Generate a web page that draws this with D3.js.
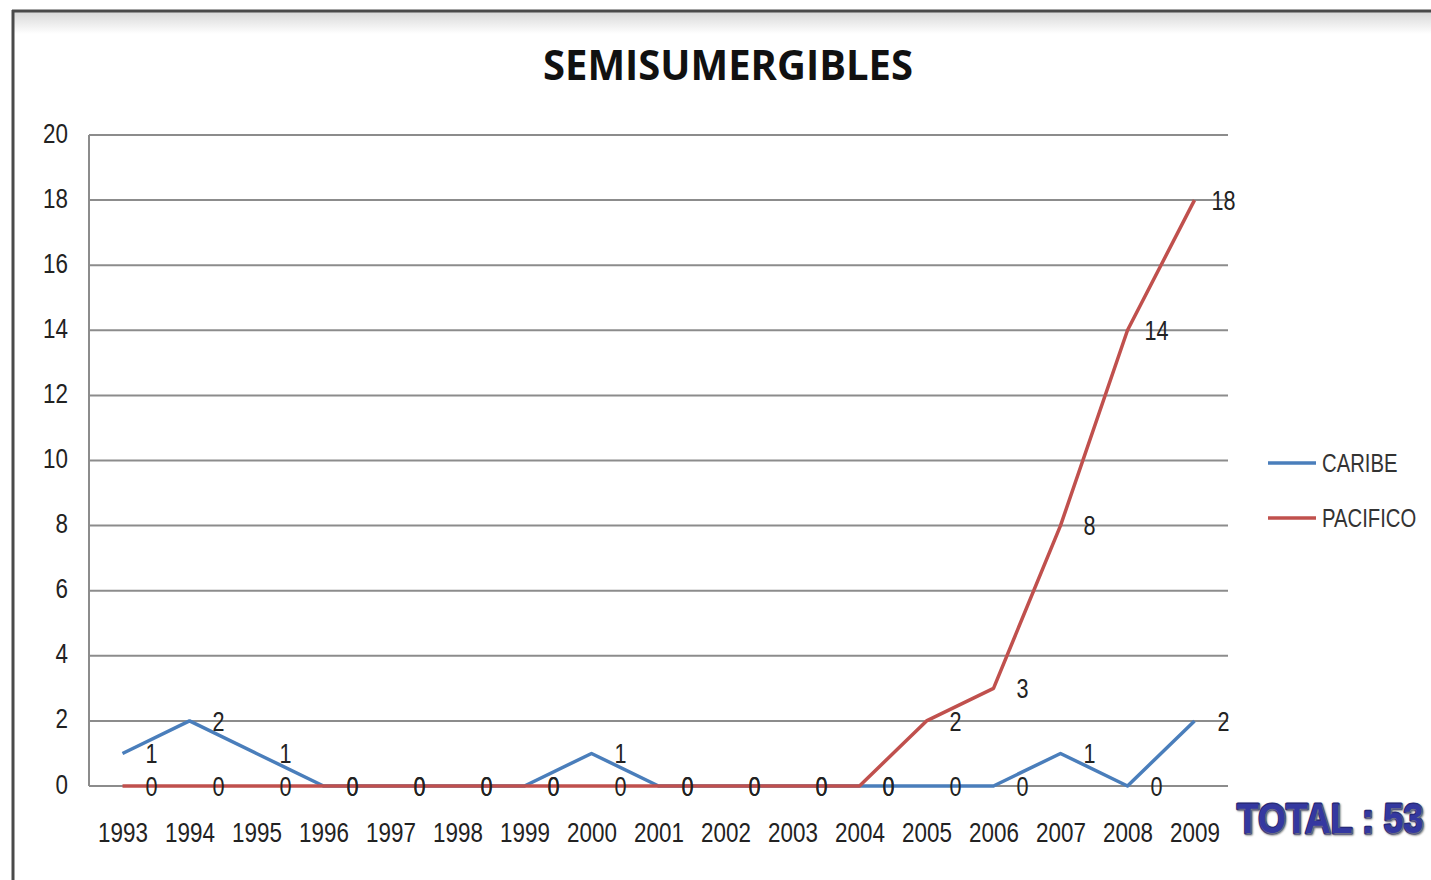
<!DOCTYPE html>
<html>
<head>
<meta charset="utf-8">
<script src="https://cdn.jsdelivr.net/npm/d3@7/dist/d3.min.js"></script>
<style>
    html, body { margin: 0; padding: 0; background: #fff; }
    svg { display: block; }
</style>
</head>
<body>
<svg id="chart" width="1431" height="880"></svg>
<script>
const years = ["1993", "1994", "1995", "1996", "1997", "1998", "1999", "2000", "2001",
    "2002", "2003", "2004", "2005", "2006", "2007", "2008", "2009"];
const caribe = [1, 2, 1, 0, 0, 0, 0, 1, 0, 0, 0, 0, 0, 0, 1, 0, 2];
const pacifico = [0, 0, 0, 0, 0, 0, 0, 0, 0, 0, 0, 0, 2, 3, 8, 14, 18];
const yTicks = [0, 2, 4, 6, 8, 10, 12, 14, 16, 18, 20];
const seriesNames = ["CARIBE", "PACIFICO"];
const seriesColors = ["#4a7ebb", "#c0504d"];
const chartTitle = "SEMISUMERGIBLES";
const totalLabel = "TOTAL : 53";

const font = "'Liberation Sans', 'DejaVu Sans', sans-serif";
const svg = d3.select("#chart");
const margin = { top: 135, left: 89, right: 203, bottom: 94 };
const W = 1431, H = 880;
const width = W - margin.left - margin.right;
const height = H - margin.top - margin.bottom;

// the reference text is narrow (Calibri-like); squeeze the installed font horizontally
function squeeze(sel, k) {
    sel.each(function () {
        const len = this.getComputedTextLength();
        d3.select(this).attr("textLength", len * k).attr("lengthAdjust", "spacingAndGlyphs");
    });
}

// same idea but through a scaled wrapper, so the text box itself shrinks
function narrowText(parent, px, py, k) {
    return parent.append("g").attr("transform", `translate(${px},${py}) scale(${k},1)`).append("text");
}

const defs = svg.append("defs");
const grad = defs.append("linearGradient").attr("id", "topShade").attr("x1", 0).attr("x2", 0).attr("y1", 0).attr("y2", 1);
grad.append("stop").attr("offset", "0%").attr("stop-color", "#d8d8d8");
grad.append("stop").attr("offset", "100%").attr("stop-color", "#ffffff");

// frame
svg.append("rect").attr("x", 14).attr("y", 12).attr("width", W - 14).attr("height", 22).attr("fill", "url(#topShade)");
svg.append("line").attr("x1", 12).attr("x2", W).attr("y1", 11).attr("y2", 11).attr("stroke", "#4a4a4a").attr("stroke-width", 3);
svg.append("line").attr("x1", 13).attr("x2", 13).attr("y1", 10).attr("y2", H).attr("stroke", "#4a4a4a").attr("stroke-width", 3);

svg.append("text")
    .attr("x", 728).attr("y", 80)
    .attr("text-anchor", "middle")
    .attr("font-family", "'Open Sans', 'Liberation Sans', sans-serif")
    .attr("font-weight", "bold")
    .attr("font-size", 42)
    .attr("textLength", 370)
    .attr("lengthAdjust", "spacingAndGlyphs")
    .attr("fill", "#111")
    .text(chartTitle);

const g = svg.append("g").attr("transform", `translate(${margin.left},${margin.top})`);

const x = d3.scalePoint().domain(years).range([0, width]).padding(0.5);
const y = d3.scaleLinear().domain([0, 20]).range([height, 0]);

// gridlines
g.append("g")
    .selectAll("line")
    .data(yTicks)
    .join("line")
    .attr("x1", 0).attr("x2", width)
    .attr("y1", (d) => y(d)).attr("y2", (d) => y(d))
    .attr("stroke", "#8c8c8c")
    .attr("stroke-width", 2);
g.append("line")
    .attr("x1", 0).attr("x2", 0).attr("y1", 0).attr("y2", height)
    .attr("stroke", "#8c8c8c").attr("stroke-width", 2);

// y axis labels
const yAxis = g.append("g").call(d3.axisLeft(y).tickValues(yTicks).tickSize(0).tickPadding(21));
yAxis.select(".domain").remove();
yAxis.selectAll("text")
    .attr("font-family", font).attr("font-size", 28).attr("fill", "#222").attr("dy", "0.25em")
    .call(squeeze, 0.8);

// x axis labels
const xAxis = g.append("g").attr("transform", `translate(0,${height})`)
    .call(d3.axisBottom(x).tickSize(0));
xAxis.select(".domain").remove();
xAxis.selectAll("text")
    .attr("font-family", font).attr("font-size", 28).attr("fill", "#222").attr("dy", "0.35em")
    .attr("y", 46)
    .call(squeeze, 0.8);

const seriesData = [caribe, pacifico];
const line = d3.line().x((d, i) => x(years[i])).y((d) => y(d));

[0, 1].forEach((s) => {
    g.append("path")
        .datum(seriesData[s])
        .attr("d", line)
        .attr("fill", "none")
        .attr("stroke", seriesColors[s])
        .attr("stroke-width", 3.5)
        .attr("stroke-linejoin", "round");
});

// data labels
[0, 1].forEach((s) => {
    g.append("g")
        .selectAll("text")
        .data(seriesData[s])
        .join("text")
        .attr("x", (d, i) => x(years[i]) + 29)
        .attr("y", (d) => y(d))
        .attr("dy", "0.36em")
        .attr("text-anchor", "middle")
        .attr("font-family", font)
        .attr("font-size", 27)
        .attr("fill", "#222")
        .text((d) => d)
        .call(squeeze, 0.8);
});

// legend
const legend = svg.append("g").attr("transform", "translate(1268,463)");
seriesNames.forEach((name, i) => {
    const row = legend.append("g").attr("transform", `translate(0,${i * 55})`);
    row.append("line").attr("x1", 0).attr("x2", 48).attr("y1", 0).attr("y2", 0)
        .attr("stroke", seriesColors[i]).attr("stroke-width", 3.5);
    narrowText(row, 54, 0, 0.78)
        .attr("dy", "0.36em")
        .attr("font-family", font).attr("font-size", 26).attr("fill", "#333")
        .text(name);
});

// total
narrowText(svg, 1237, 833, 0.85)
    .attr("font-family", "'Liberation Sans', 'DejaVu Sans', sans-serif")
    .attr("font-weight", "bold")
    .attr("font-size", 42)
    .attr("fill", "#3438a0")
    .attr("stroke", "#23267a")
    .attr("stroke-width", 3)
    .attr("stroke-linejoin", "round")
    .attr("paint-order", "stroke")
    .style("text-shadow", "1px 1px 2px #888")
    .text(totalLabel);
</script>
</body>
</html>
